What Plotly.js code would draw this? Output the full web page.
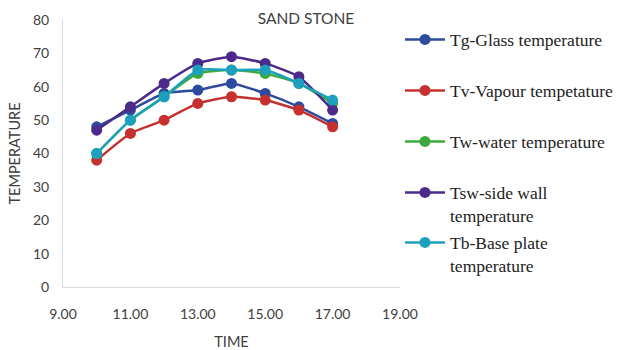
<!DOCTYPE html>
<html>
<head>
<meta charset="utf-8">
<script src="https://cdn.plot.ly/plotly-3.0.1.min.js"></script>
<style>
  html, body { margin: 0; padding: 0; background: #fff; }
  #chart { width: 618px; height: 350px; }
</style>
</head>
<body>
<div id="chart"></div>
<script>
// Hour of day for each reading
const time = [10, 11, 12, 13, 14, 15, 16, 17];

// Temperatures recorded for the sand stone still
const tgGlass    = [48, 53, 58, 59, 61, 58, 54, 49];
const tvVapour   = [38, 46, 50, 55, 57, 56, 53, 48];
const twWater    = [40, 50, 57, 64, 65, 64, 61, 55];
const tswWall    = [47, 54, 61, 67, 69, 67, 63, 53];
const tbBase     = [40, 50, 57, 65, 65, 65, 61, 56];

const seriesNames = [
  'Tg-Glass temperature',
  'Tv-Vapour tempetature',
  'Tw-water temperature',
  'Tsw-side wall<br>temperature',
  'Tb-Base plate<br>temperature'
];
const seriesValues = [tgGlass, tvVapour, twWater, tswWall, tbBase];
const seriesColors = ['#2d4b9c', '#c5312e', '#3ca93a', '#4c2a8a', '#1ca0be'];

// Each series gets its own legend box so the entries can be spaced freely
const legendIds = ['legend', 'legend2', 'legend3', 'legend4', 'legend5'];
const legendTops = [21.5, 72.5, 123.5, 174.5, 224.5];

const traces = seriesNames.map((name, i) => ({
  type: 'scatter',
  mode: 'lines+markers',
  name: name,
  x: time,
  y: seriesValues[i],
  legend: legendIds[i],
  line: { color: seriesColors[i], width: 2.5, shape: 'spline', smoothing: 0.5 },
  marker: { color: seriesColors[i], size: 11, symbol: 'circle' }
}));

const sans = 'Lato, "Open Sans", sans-serif';
const tickFont = { family: sans, size: 14, color: '#404040' };

const layout = {
  width: 618,
  height: 350,
  paper_bgcolor: '#ffffff',
  plot_bgcolor: '#ffffff',
  margin: { l: 63, r: 213, t: 20, b: 63 },
  title: {
    text: 'SAND STONE',
    font: { family: sans, size: 15.5, color: '#404040' },
    x: 306 / 618,
    xanchor: 'center',
    xref: 'container',
    y: 1 - 19 / 350,
    yanchor: 'middle',
    yref: 'container'
  },
  xaxis: {
    range: [9, 19],
    tickvals: [9, 11, 13, 15, 17, 19],
    tickformat: '.2f',
    showgrid: false,
    zeroline: false,
    showline: true,
    linecolor: '#d9d9d9',
    linewidth: 1,
    ticks: 'outside',
    ticklen: 14,
    tickcolor: 'rgba(0,0,0,0)',
    tickfont: tickFont,
    title: {
      text: 'TIME',
      font: { family: sans, size: 14.5, color: '#404040' },
      standoff: 17
    }
  },
  yaxis: {
    range: [0, 80],
    dtick: 10,
    showgrid: false,
    zeroline: false,
    showline: true,
    linecolor: '#d9d9d9',
    linewidth: 1,
    ticks: 'outside',
    ticklen: 10,
    tickcolor: 'rgba(0,0,0,0)',
    tickfont: tickFont,
    title: {
      text: 'TEMPERATURE',
      font: { family: sans, size: 14.5, color: '#404040' },
      standoff: 8
    }
  },
  showlegend: true
};

legendIds.forEach((id, i) => {
  layout[id] = {
    xref: 'container',
    yref: 'container',
    x: 400 / 618,
    y: 1 - legendTops[i] / 350,
    xanchor: 'left',
    yanchor: 'top',
    itemwidth: 40,
    font: { family: '"Liberation Serif", "Times New Roman", serif', size: 17.5, color: '#222222' },
    valign: 'top',
    bgcolor: 'rgba(0,0,0,0)'
  };
});

Plotly.newPlot('chart', traces, layout, { displayModeBar: false, staticPlot: true });
</script>
</body>
</html>
